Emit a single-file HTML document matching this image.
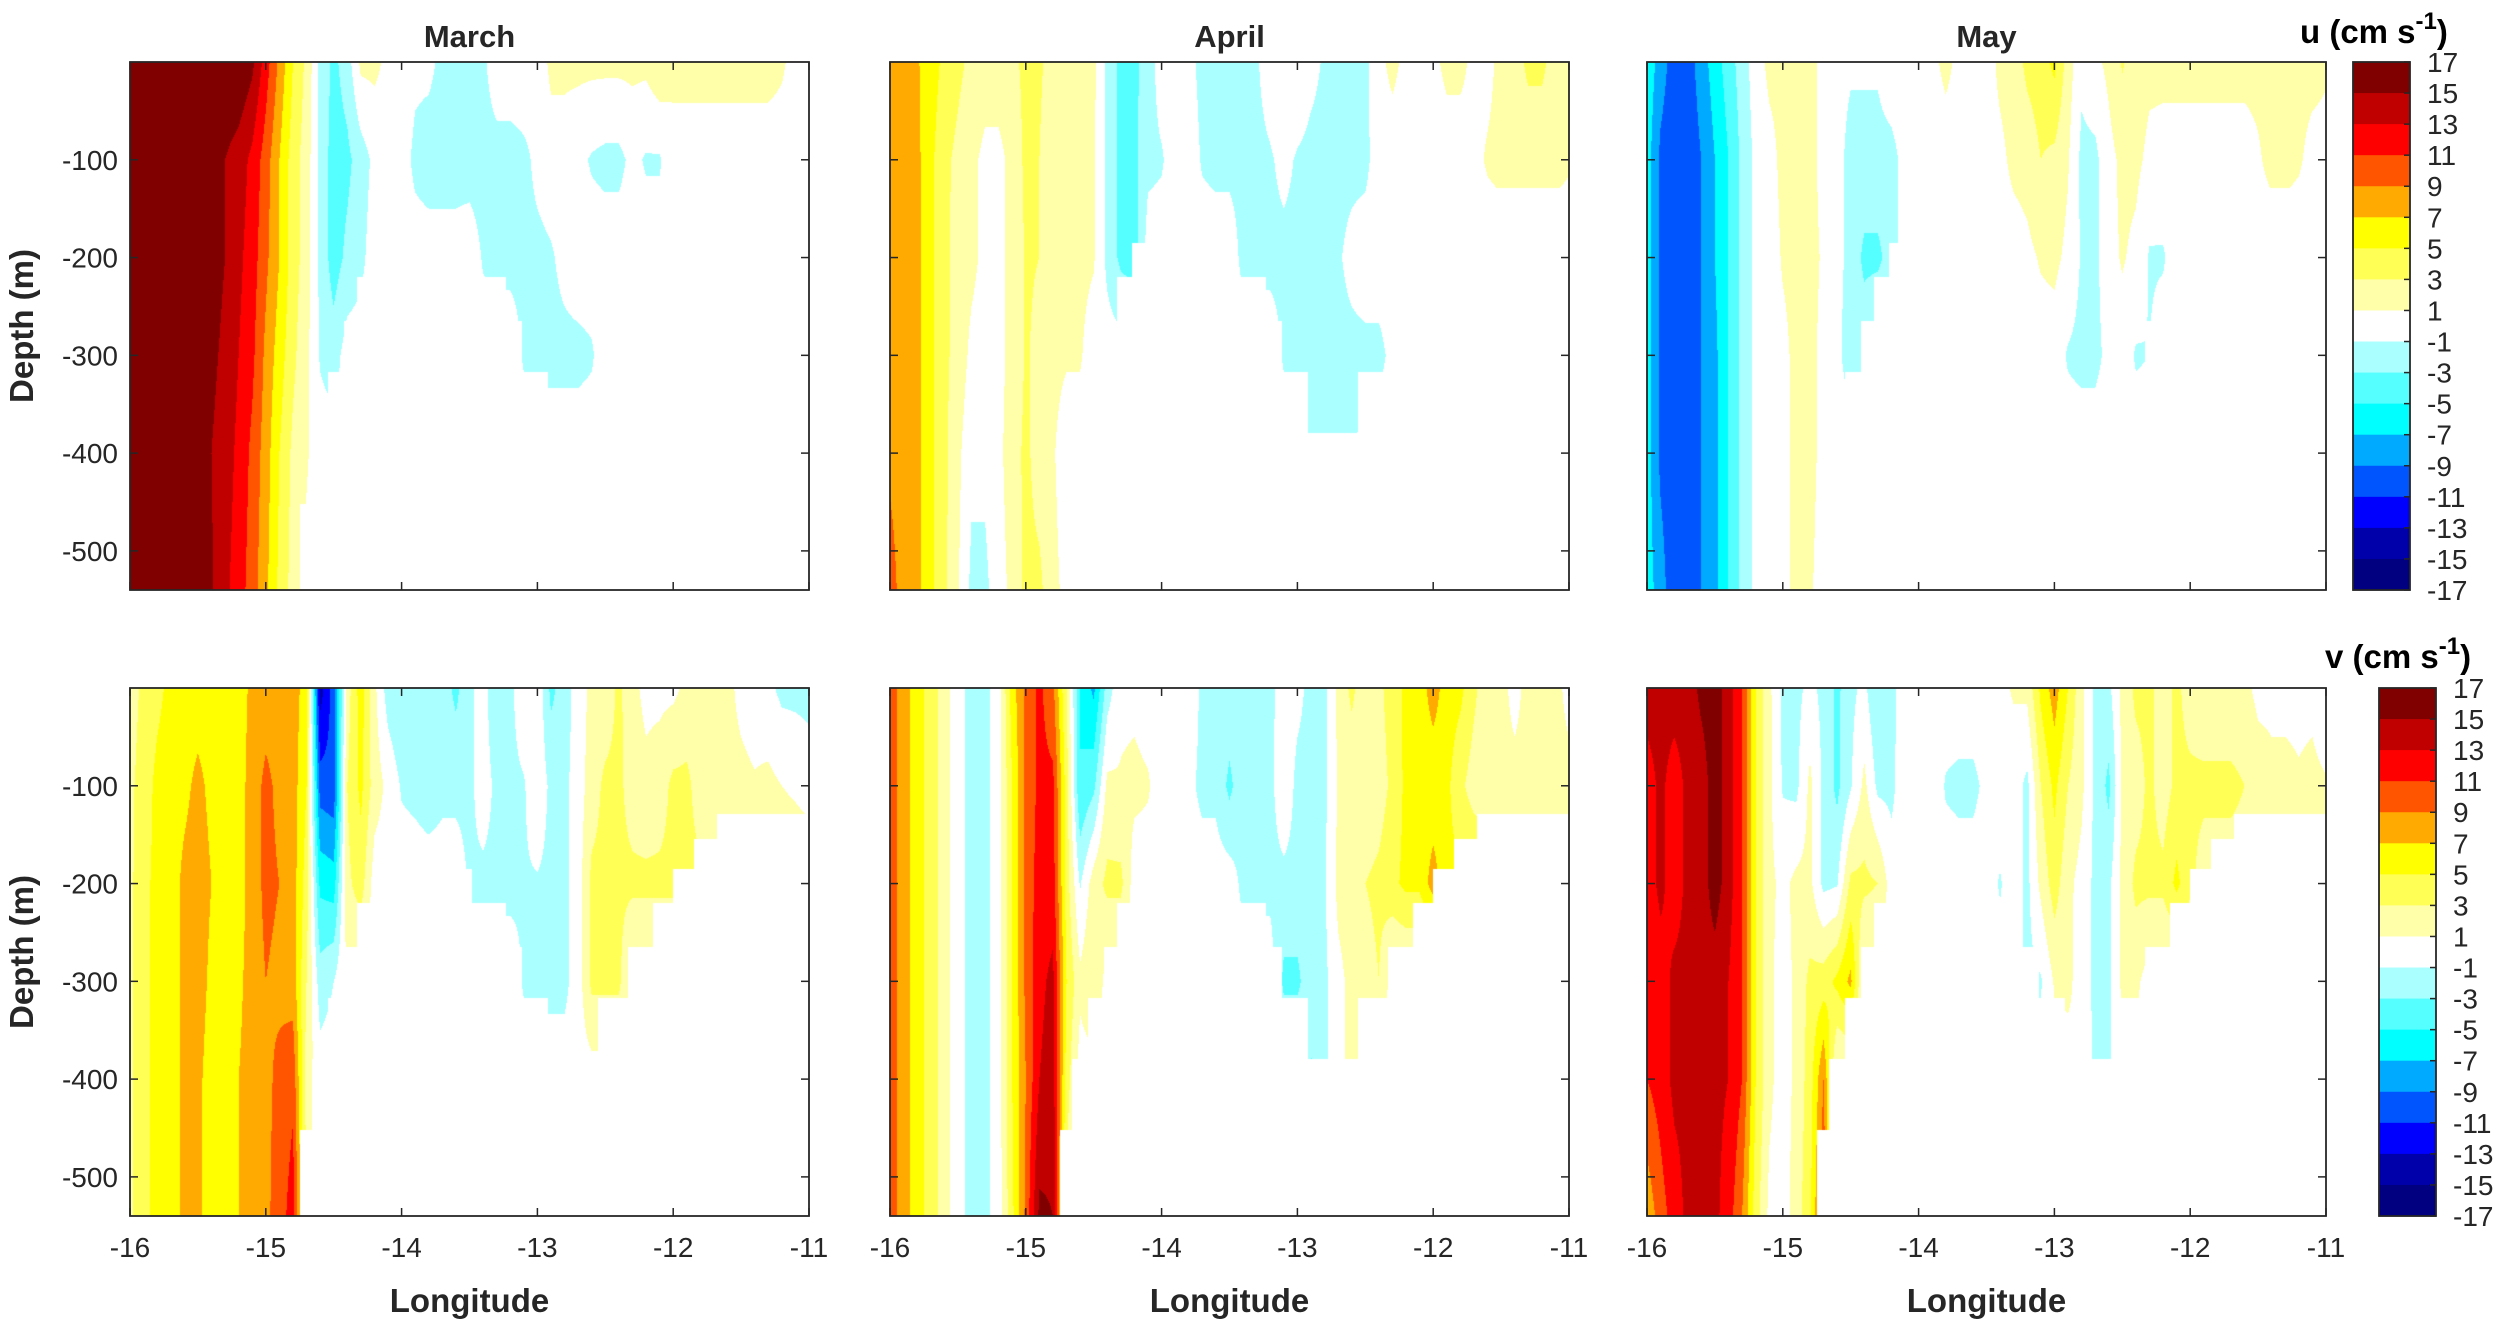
<!DOCTYPE html>
<html><head><meta charset="utf-8">
<style>
html,body{margin:0;padding:0;background:#fff;}
#wrap{position:relative;width:2500px;height:1326px;overflow:hidden;background:#fff;font-family:"Liberation Sans",Arial,sans-serif;}
canvas{position:absolute;}
svg{position:absolute;left:0;top:0;}
</style></head>
<body>
<div id="wrap">
<canvas id="c0" width="679" height="528" style="left:130px;top:62px"></canvas>
<canvas id="c1" width="679" height="528" style="left:890px;top:62px"></canvas>
<canvas id="c2" width="679" height="528" style="left:1647px;top:62px"></canvas>
<canvas id="c3" width="679" height="528" style="left:130px;top:688px"></canvas>
<canvas id="c4" width="679" height="528" style="left:890px;top:688px"></canvas>
<canvas id="c5" width="679" height="528" style="left:1647px;top:688px"></canvas>
<svg id="ov" width="2500" height="1326"></svg>
</div>
<script>
const depthLevels = [0,-100,-200,-300,-400,-540];
const lonTicks = [-16,-15,-14,-13,-12,-11];
const depthTicks = [-100,-200,-300,-400,-500];
const cbarTicks = [17,15,13,11,9,7,5,3,1,-1,-3,-5,-7,-9,-11,-13,-15,-17];
const bandColors = ['#000080','#0000aa','#0000ff','#0055ff','#00aaff','#00ffff','#55ffff','#aaffff','#ffffff','#ffffaa','#ffff55','#ffff00','#ffaa00','#ff5500','#ff0000','#c00000','#800000'];
const monthNames = ['March','April','May'];
// bathymetry mask: [lonStart, lonEnd, bottom depth]
const bottomSegments = [[-16,-14.747,-540],[-14.747,-14.663,-452],[-14.663,-14.545,-379],[-14.545,-14.427,-317],[-14.427,-14.325,-265],[-14.325,-14.217,-220],[-14.217,-13.481,-185],[-13.481,-13.228,-220],[-13.228,-13.110,-265],[-13.110,-12.924,-317],[-12.924,-12.553,-379],[-12.553,-12.334,-317],[-12.334,-12.148,-265],[-12.148,-12.003,-220],[-12.003,-11.844,-185],[-11.844,-11.675,-154],[-11.675,-11,-129]];
// values on 0.1 deg longitude grid (-16..-11), rows at depthLevels; missing trailing = 0
const uMar = [
[17,17,17,17,17,17,17,17,17,15.5,12,8.5,5,2.5,-1.5,-3.5,-2,1.5,1.5,0.5,0.5,-0.5,-0.5,-1.5,-2,-2,-1.5,0.5,0.5,0.5,-0.3,1.5,1.5,1.5,1.5,1.5,1.5,1.5,1.5,2.5,1.5,1.5,1.5,1.5,1.5,1.5,1.5,1.5,1.2,0.5,0.5],
[17,17,17,17,17,17,16,15,14,12.5,10,7,4,2,-1.5,-4,-3.5,-2,-0.5,0,0,-1.5,-2,-2,-2,-2,-2,-2,-2,-1.5,-0.5,0,0,-0.5,-1.2,-1.5,-1.5,-0.5,-1.2,-1.2,0.3,0.3,0.3,0.3,0.3,0.3,0.3,0.3,0.3,0.3,0.3],
[17,17,17,17,17,17,16,15,13.5,12,9.5,7,4,2,-1.5,-4,-2.5,-1.5,0,0,0,0,0,0,0,0.3,-1.2,-1.5,-1.5,-1.5,-1.5,-1.2,-0.5],
[17,17,17,17,17,17,15.5,14.5,13,11.5,8.5,6,3.5,1.5,-1.2,-2,0,0,0,0,0,0,0,0,0,0,0,0,0,-1.2,-1.5,-1.5,-1.5,-1.5,-1.2],
[17,17,17,17,17,17,15,14,12.5,10.5,8,5,2.5,1.2],
[17,17,17,17,17,16.5,15.2,13.5,12,10,7.5,4.5,2.2,0.5]];
const uApr = [
[8,8,7.2,6,4.5,3.5,2.5,2,2,2.5,3.5,3.2,2.5,2,2,1.5,-1.5,-3.5,-3.5,-2,0,0,-0.5,-1.5,-1.5,-1.5,-1.5,-1.2,0,0.5,0.5,-0.5,-1.2,-1.5,-1.5,-1.5,0.5,1.5,0.5,0.5,0.5,1.5,1.5,0.5,0.5,1.5,2,3.5,3.5,2,1.5],
[8,8,7.5,5.5,3.5,2.5,1.5,0.5,0.5,1.5,3.5,3,2,1.5,1.5,1.2,-1.5,-3.5,-3.5,-1.5,-1.2,0,0,-1.2,-1.5,-1.5,-1.5,-1.5,-1.2,-0.5,-1.2,-1.5,-1.5,-1.5,-1.5,-1.5,0,0,0,0,0,0,0,0.5,1.2,1.5,1.5,1.5,1.5,1.5,1.2],
[8,8,7.5,5.5,3.5,2.2,1.5,0.5,0.5,1.5,3.2,3,2,1.5,1.5,1.2,-1.5,-3.5,-4,0,0,0,0,0,0,0,-1.5,-1.5,-1.5,-1.5,-1.5,-1.5,-1.5,-1.2,-0.5],
[8,8,7.5,5.5,3.5,2.2,0.5,0,0.5,1.5,3.2,2.5,1.5,1.2,1.2,0,0,0,0,0,0,0,0,0,0,0,0,0,0,-1.2,-1.5,-1.5,-1.5,-1.5,-1.5,-1.5,-1.5,-0.5],
[8.5,8,7.5,5.5,3.5,1.5,-0.5,-0.5,0.5,2,3.5,2,1.2,0,0,0,0,0,0,0,0,0,0,0,0,0,0,0,0,0,0,-1.5,-1.5,-1.5,-1.5],
[10,8,7.5,5.5,3.5,1.2,-1.5,-1.5,0.2,1.5,3.5,3.5,1.5,0.5]];
const uMay = [
[-5.5,-8,-10,-10,-8,-6,-4,-2,0,1.5,1.5,1.5,1.5,0.5,-0.5,-0.8,-0.8,-0.8,0,0,0,0.5,1.5,0.5,0,0,1.5,2,3.5,4,5.5,2,-0.5,0.5,1.5,3.2,2,1.5,1.5,1.5,1.5,1.5,1.5,1.5,1.5,1.5,1.5,1.5,1.5,1.5,1.2],
[-6,-9.5,-10.5,-10.5,-9,-7,-5,-2.5,-0.5,0.3,1.5,1.5,1.5,0.5,-0.5,-1.5,-1.5,-1.5,-1.5,-0.5,0,0,0,0,0,0.3,0.5,1.5,1.8,3,2.5,1.2,-1.5,-1.5,0.3,1.5,1.5,0.5,0.3,0.3,0.3,0.3,0.3,0.3,0.3,0.8,1.5,1.5,1.2,0.5,0.5],
[-6,-9.5,-10.5,-10.5,-9,-7,-5,-2.5,-0.5,0,1.2,1.5,1.5,0.8,-0.5,-1.5,-3.5,-3.5,-2,0,0,0,0,0,0,0,0,0,0.5,1.2,1.5,0.5,-1.2,-1.5,0.3,1.2,0.5,-1.2,-1.2],
[-6,-9.5,-10.5,-10.5,-9,-7.5,-5,-2.5,-0.5,0,0.5,1.5,1.5,0.5,-0.5,-2,-1.5,0,0,0,0,0,0,0,0,0,0,0,0,0,0,-1.2,-1.5,-1.5,-0.5,0,-1.2,-1],
[-6,-9.5,-10.5,-10.5,-9,-7.5,-5,-2.5,-0.5,0,0.5,1.5,1.5,0.5],
[-6,-8,-10.5,-10.5,-9,-7.5,-5,-2.5,-0.5,0,0.5,1.5,1.2,0.3]];
const vMar = [
[2,3.5,4.5,5.5,6,6,6,5.5,6,7.5,8,8,8,6,-14,-10,2,6,1.5,-2,-3,-1.5,-1.5,-2,-3.5,-1.5,0,-3,-1.5,0.5,0.5,-3.5,-2,0,1.5,1.5,3.5,1.5,0.5,0.5,0.5,1.5,1.5,2,1.5,0.5,0,-0.5,-1.5,-1.5,-1.5],
[2.5,4,5.5,6,6.5,7.5,6.5,5.5,6,8,9.5,8.5,8,5,-10,-10.5,3,5.5,2,0.5,-1.2,-1.5,-2,-1.5,-1.5,-1.5,0,-1.5,-1.5,-1.2,0.5,-1.5,-1.5,0,2,3.5,3.5,2,1.5,2,3.5,3.5,2,2,1.5,1.5,1.2,1.5,1,0.5,-0.2],
[2.5,4.5,5.5,6,7.5,8,7,5.5,6,8,9.5,9,8,4,-5.5,-6,2.5,4,0,0,0,0,0,0,0,-1.2,-1.5,-1.5,-1.5,-1.2,-1.2,-1.5,-1.5,0,3.5,3.5,3.5,3.5,3.5,3.5,3.5,3.5,3.5,3.5,3.5,3.5,3.5,3.5,3.5,3.5,3.5],
[2.5,4.5,5.5,6,7.5,8,6.5,5.5,6.5,8,9,8.5,8,3,-2,-1,1,0,0,0,0,0,0,0,0,0,0,0,0,-1.2,-1.5,-1.5,-1.5,0,3.5,3.5,3.5],
[2.5,4.5,5.5,6,7.5,7.5,6,5.5,7,8,8.5,9.5,10.5,2],
[2.5,4.5,5.5,6,7.5,7.5,6,5.5,7,8,8.5,10,12,3]];
const vApr = [
[10,8,6,4,2,-0.5,-1.5,-1.5,0,6,9.5,11.5,9.5,3,-5,-7.5,-2,0.5,0.5,0,0,0.3,0.5,-1.5,-1.5,-1.5,-1.5,-1.5,-1.5,0,-0.5,-1.5,-1.5,1.5,3.5,1.5,2.5,4,5.5,6,8,6,5.5,3.5,1.5,1.5,0.5,1.5,1.5,1.5,0.5],
[10,8,6,4,2,-0.5,-1.5,-1.5,0,5,9.5,11.5,11.5,4,-5,-3.5,1.5,1.2,1.5,1.2,0,0,-0.5,-1.5,-1.5,-3.5,-1.5,-1.5,-1.5,0.3,-1.5,-1.5,-1.5,1.2,1.5,1.5,2,3.5,5.5,5.5,5.5,5.5,3.5,2,1.5,1.5,1.5,1.5,2,1.5,1.5],
[10,8,6,4,2,-0.5,-1.5,-1.5,0,5,9.5,12,12,4,-1.2,2,3.5,3.5,0,0,0,0,0,0,0,0,-1.5,-1.5,-1.5,-1.5,-1.5,-1.5,-1.2,1.5,2,3,3.5,4.5,5.5,5.5,8,5.5,5.5,5.5,5.5,5.5,5.5,5.5,5.5,5.5,5.5],
[10,8,6,4,2,-0.5,-1.5,-1.5,0,5,9.5,12.5,13.5,5,1.5,3,0,0,0,0,0,0,0,0,0,0,0,0,0,-3.5,-3.5,-1.5,-1.5,0.5,1.5,2,3],
[10,8,6,4,2,-0.5,-1.5,-1.5,0,5,9,13,14,4,0,0,0,0,0,0,0,0,0,0,0,0,0,0,0,0,0,-3.5,-1.5,0.5,1.5],
[10,8,6,4,2,-0.5,-1.5,-1.5,0,4.5,9.5,15.5,15,2]];
const vMay = [
[14,14,14,14,15.5,16,14,11,5,1.5,-1.5,-1.5,-0.5,-1.5,-3.5,-1.5,-0.5,-3,-1.5,0,0.3,0.3,0.3,0.3,0.3,0.3,0.5,1.2,1.5,5.5,8,5,1.5,-1.5,-1.5,1.5,3.5,3.5,2,3.5,2,1.5,1.5,1.5,1.5,0.5,0.5,0.5,0.5,0.5,-0.5],
[12,13.5,12,13.5,14,16,14,11,5,1.5,-1.2,-1.5,1.5,-1.5,-3.5,-1.2,1.5,-1.5,-1.5,0.3,0.5,0.5,-1.2,-1.5,-1.5,-0.5,0.5,0,-1.5,3,5.5,3,1.5,-1.5,-3.5,1.5,2,3.5,2,3.5,3.5,3.5,3.5,3.5,3,2,1.5,1.5,1.2,1.5,1.2],
[12,13.5,12,13.5,14,16,14,11,5,1.5,0.5,1.5,1.5,-1.5,-1.2,3.5,3.5,3,0,0,0,0,0,0,0,0,-1.2,0.3,-1.5,1.5,4,1.5,0.3,-1.5,-1.5,1.5,3.5,3.5,3.5,5.5,3.5,2,2,2,2,2,2,2,2,2,2],
[11.5,12,13.5,13.5,14,14,13,11,5,1.5,0,1.5,3.5,4,5.5,7.5,0,0,0,0,0,0,0,0,0,0,0,0,-1.5,-1.2,1.2,1.5,0,-1.5,-1.5,1.5,1.5],
[11,12,13.5,13.5,13.5,13.5,13,11,5,1.5,0,1.5,4,9,0,0,0,0,0,0,0,0,0,0,0,0,0,0,0,0,0,0,1.2,-1.5,-1.2],
[7.5,10,12,13.5,13.5,13.5,12,9,4,0.5,0,2,4.5,11]];

const panels = [uMar,uApr,uMay,vMar,vApr,vMay];
const PW=679, PH=528, lefts=[130,890,1647], tops=[62,688];
const LON0=-16, LON1=-11, DEP0=0, DEP1=-540;
function xScale(lon){return (lon-LON0)/(LON1-LON0)*PW;}
function yScale(d){return (DEP0-d)/(DEP0-DEP1)*PH;}
function bottomAt(lon){for(const s of bottomSegments){if(lon>=s[0]&&lon<s[1])return s[2];}return -129;}
function val(rows,r,j){const v=rows[r][j];return v===undefined?0:v;}
function field(rows,lon,d){
  let jf=(lon+16)/0.1; let j0=Math.floor(jf); if(j0<0)j0=0; if(j0>49)j0=49; const t=Math.min(1,Math.max(0,jf-j0));
  let k=0; while(k<depthLevels.length-2 && d<depthLevels[k+1]) k++;
  const s=Math.min(1,Math.max(0,(depthLevels[k]-d)/(depthLevels[k]-depthLevels[k+1])));
  const a=val(rows,k,j0)*(1-t)+val(rows,k,j0+1)*t;
  const b=val(rows,k+1,j0)*(1-t)+val(rows,k+1,j0+1)*t;
  return a*(1-s)+b*s;
}
function hex(c){return [parseInt(c.substr(1,2),16),parseInt(c.substr(3,2),16),parseInt(c.substr(5,2),16)];}
const rgb=bandColors.map(hex);
panels.forEach((rows,p)=>{
  const cv=document.getElementById('c'+p); const ctx=cv.getContext('2d');
  const img=ctx.createImageData(PW,PH); const D=img.data;
  for(let x=0;x<PW;x++){
    const lon=LON0+(x+0.5)/PW*(LON1-LON0); const bot=bottomAt(lon);
    for(let y=0;y<PH;y++){
      const d=DEP0-(y+0.5)/PH*(DEP0-DEP1);
      let c=rgb[8];
      if(d>=bot){const v=field(rows,lon,d);let b=Math.floor((v+17)/2);if(b<0)b=0;if(b>16)b=16;c=rgb[b];}
      const i=(y*PW+x)*4; D[i]=c[0];D[i+1]=c[1];D[i+2]=c[2];D[i+3]=255;
    }
  }
  ctx.putImageData(img,0,0);
});
const NS='http://www.w3.org/2000/svg';
const ov=document.getElementById('ov');
function mk(tag,attrs,parent){const e=document.createElementNS(NS,tag);for(const k in attrs)e.setAttribute(k,attrs[k]);(parent||ov).appendChild(e);return e;}
function txt(s,x,y,size,weight,anchor,name){const t=mk('text',{x:x,y:y,'font-size':size,'font-weight':weight,'text-anchor':anchor,fill:'#262626','font-family':'Liberation Sans, Arial, sans-serif'});t.textContent=s;


return t;}
for(let r=0;r<2;r++)for(let c=0;c<3;c++){
  const L=lefts[c],T=tops[r];
  const g=mk('g',{});
  
  
  lonTicks.forEach(lt=>{const x=L+xScale(lt);
    mk('line',{x1:x,x2:x,y1:T+PH,y2:T+PH-8,stroke:'#262626','stroke-width':1.5},g);
    mk('line',{x1:x,x2:x,y1:T,y2:T+8,stroke:'#262626','stroke-width':1.5},g);
    if(r===1) txt(String(lt),x,1257,28,'normal','middle','x-tick-label');
  });
  depthTicks.forEach(dt=>{const y=T+yScale(dt);
    mk('line',{x1:L,x2:L+8,y1:y,y2:y,stroke:'#262626','stroke-width':1.5},g);
    mk('line',{x1:L+PW,x2:L+PW-8,y1:y,y2:y,stroke:'#262626','stroke-width':1.5},g);
    if(c===0) txt(String(dt),118,y+10,28,'normal','end','y-tick-label');
  });
  mk('rect',{x:L,y:T,width:PW,height:PH,fill:'none',stroke:'#262626','stroke-width':1.8},g);
  if(r===0) txt(monthNames[c],L+PW/2,47,31,'bold','middle','panel-title');
  if(r===1) txt('Longitude',L+PW/2,1312,33,'bold','middle','x-axis-title');
}
[tops[0],tops[1]].forEach((T,r)=>{
  const t=mk('text',{x:0,y:0,'font-size':33,'font-weight':'bold','text-anchor':'middle',fill:'#262626','font-family':'Liberation Sans, Arial, sans-serif',transform:'translate(33,'+(T+PH/2)+') rotate(-90)'});
  t.textContent='Depth (m)';
  
  
});
const cbars=[{x:2353,y:62,lx:2427,tx:2300,ty:43,lab:'u'},{x:2379,y:688,lx:2453,tx:2325,ty:668,lab:'v'}];
cbars.forEach(cb=>{
  const g=mk('g',{});
  
  
  const W=57,H=PH,bh=H/17;
  for(let b=0;b<17;b++){
    const rc=mk('rect',{x:cb.x,y:cb.y+b*bh,width:W,height:bh+0.6,fill:bandColors[16-b]},g);
    
    
  }
  mk('rect',{x:cb.x,y:cb.y,width:W,height:H,fill:'none',stroke:'#262626','stroke-width':1.8},g);
  cbarTicks.forEach((v,i)=>{const y=cb.y+i*bh;
    mk('line',{x1:cb.x+W,x2:cb.x+W-6,y1:y,y2:y,stroke:'#262626','stroke-width':1.5},g);
    txt(String(v),cb.lx,y+10,28,'normal','start','colorbar-tick-label');
  });
  const t=mk('text',{x:cb.tx,y:cb.ty,'font-size':33,'font-weight':'bold',fill:'#000','font-family':'Liberation Sans, Arial, sans-serif'});
  
  
  const a=document.createElementNS(NS,'tspan');a.textContent=cb.lab+' (cm s';t.appendChild(a);
  const b=document.createElementNS(NS,'tspan');b.setAttribute('dy','-14');b.setAttribute('font-size','24');b.textContent='-1';t.appendChild(b);
  const c2=document.createElementNS(NS,'tspan');c2.setAttribute('dy','14');c2.textContent=')';t.appendChild(c2);
});
</script>
</body></html>
